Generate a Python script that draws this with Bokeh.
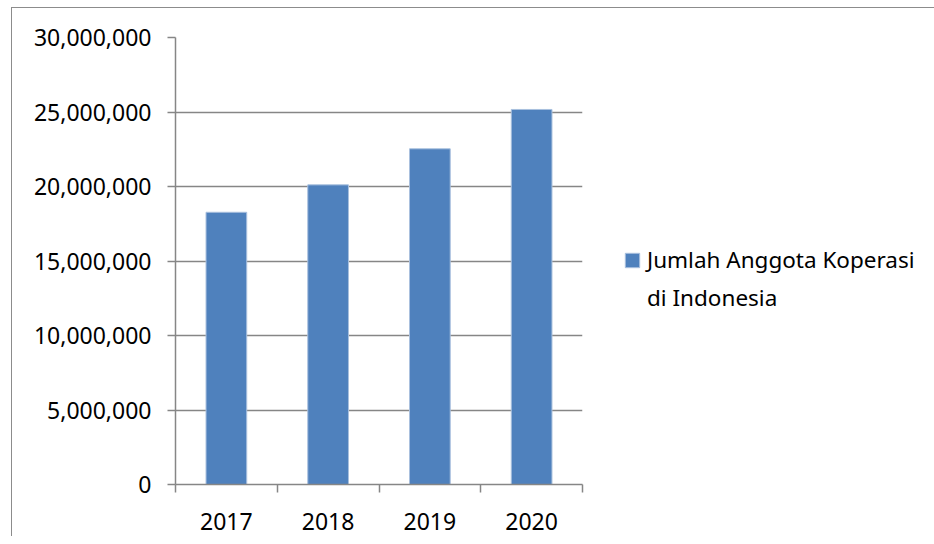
import numpy as np
from bokeh.plotting import figure
from bokeh.models import (Range1d, FixedTicker, NumeralTickFormatter, Legend, LegendItem,
                          ColumnDataSource)
from bokeh.embed import file_html
from bokeh.resources import INLINE

# ---- data ----
years = ["2017", "2018", "2019", "2020"]
members = [18270000, 20110000, 22530000, 25170000]
y_ticks = [0, 5000000, 10000000, 15000000, 20000000, 25000000, 30000000]
series_name = ["Jumlah Anggota Koperasi", "di Indonesia"]

FONT = "Noto Sans"
GRID = "#868686"
BAR = "#4F81BD"

pos = list(np.arange(len(years)) + 0.5)
bounds = list(np.arange(len(years) + 1).astype(float))

src = ColumnDataSource(dict(x=pos, top=members, year=years))

p = figure(frame_width=407, frame_height=447, output_backend="svg", toolbar_location=None,
           x_range=Range1d(0, len(years)), y_range=Range1d(0, y_ticks[-1]),
           min_border_left=163, min_border_right=0, min_border_top=29, min_border_bottom=52,
           margin=(7, 0, 0, 11))
p.styles = {"border-left": "1px solid #8c8c8c", "border-top": "1px solid #8c8c8c"}
p.outline_line_color = None
p.background_fill_color = "white"
p.border_fill_color = "white"

r = p.vbar(x="x", top="top", width=0.4, bottom=0, source=src,
           fill_color=BAR, line_color="#a9c0de", line_width=1)
# invisible renderer that only carries the wrapped second line of the legend label
r2 = p.vbar(x="x", top="top", width=0.4, source=ColumnDataSource(dict(x=[], top=[])),
            fill_alpha=0, line_alpha=0)

# x axis: labels at centres, ticks at category boundaries
xa = p.xaxis[0]
xa.ticker = FixedTicker(ticks=pos, minor_ticks=bounds)
xa.major_label_overrides = {float(k): v for k, v in zip(pos, years)}
xa.major_tick_out = 0
xa.major_tick_in = 0
xa.minor_tick_out = 8
xa.minor_tick_in = 0
xa.minor_tick_line_color = GRID
xa.minor_tick_line_width = 1.5
xa.axis_line_color = GRID
xa.axis_line_width = 1.5
xa.major_label_text_font = FONT
xa.major_label_text_font_size = "23px"
xa.major_label_text_color = "black"
xa.major_label_standoff = 20

ya = p.yaxis[0]
ya.ticker = FixedTicker(ticks=y_ticks, minor_ticks=[])
ya.formatter = NumeralTickFormatter(format="0,0")
ya.major_tick_out = 8
ya.major_tick_in = 0
ya.major_tick_line_color = GRID
ya.major_tick_line_width = 1.5
ya.minor_tick_out = 0
ya.axis_line_color = GRID
ya.axis_line_width = 1.5
ya.major_label_text_font = FONT
ya.major_label_text_font_size = "23px"
ya.major_label_text_color = "black"
ya.major_label_standoff = 16

p.xgrid.grid_line_color = None
p.ygrid.grid_line_color = GRID
p.ygrid.grid_line_width = 1.5
p.ygrid.ticker = FixedTicker(ticks=y_ticks[1:])

legend = Legend(items=[LegendItem(label=series_name[0], renderers=[r]),
                       LegendItem(label=series_name[1], renderers=[r2])],
                location=(41, 171), padding=0, margin=20, spacing=7, border_line_color=None,
                background_fill_alpha=0, glyph_width=18, glyph_height=18,
                label_standoff=6, label_text_font=FONT, label_text_font_size="22.5px",
                label_text_color="black", label_height=18)
p.add_layout(legend, "right")

open("out.html", "w").write(file_html(p, INLINE))
